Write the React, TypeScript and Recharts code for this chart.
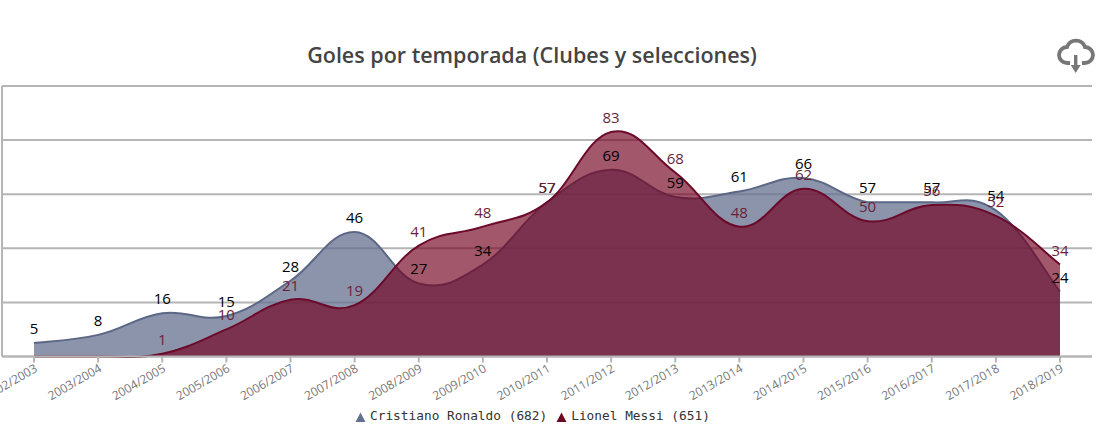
import React from 'react';
import { AreaChart, Area, XAxis, YAxis, CartesianGrid, Legend, LabelList } from 'recharts';

const seasons = ['2002/2003','2003/2004','2004/2005','2005/2006','2006/2007','2007/2008','2008/2009','2009/2010','2010/2011','2011/2012','2012/2013','2013/2014','2014/2015','2015/2016','2016/2017','2017/2018','2018/2019'];
const ronaldo = [5,8,16,15,28,46,27,34,57,69,59,61,66,57,57,54,24];
const messi = [0,0,1,10,21,19,41,48,57,83,68,48,62,50,56,52,34];
const yTicks = [0,20,40,60,80,100];
const legendItems = [
  { label: 'Cristiano Ronaldo (682)', color: '#64708f' },
  { label: 'Lionel Messi (651)', color: '#6b0a24' },
];

const data = seasons.map((season, i) => ({ season, ronaldo: ronaldo[i], messi: messi[i] }));

// Cardinal spline following the d3 curve-factory protocol; flat runs stay flat.
const smooth = (context: any) => {
  const f = 0.2;
  let line = NaN;
  let pts: [number, number][] = [];
  const flush = () => {
    const n = pts.length;
    if (n === 0) return;
    if (line) context.lineTo(pts[0][0], pts[0][1]);
    else context.moveTo(pts[0][0], pts[0][1]);
    for (let i = 0; i < n - 1; i++) {
      const p0 = pts[Math.max(i - 1, 0)];
      const p1 = pts[i];
      const p2 = pts[i + 1];
      const p3 = pts[Math.min(i + 2, n - 1)];
      const flat = p1[1] === p2[1];
      context.bezierCurveTo(
        p1[0] + f * (p2[0] - p0[0]),
        flat ? p1[1] : p1[1] + f * (p2[1] - p0[1]),
        p2[0] - f * (p3[0] - p1[0]),
        flat ? p2[1] : p2[1] - f * (p3[1] - p1[1]),
        p2[0],
        p2[1],
      );
    }
  };
  return {
    areaStart() { line = 0; },
    areaEnd() { line = NaN; },
    lineStart() { pts = []; },
    lineEnd() {
      flush();
      if (line || (line !== 0 && pts.length === 1)) context.closePath();
      line = 1 - line;
    },
    point(x: number, y: number) { pts.push([+x, +y]); },
  };
};

const labelFormat = (v: any) => (v === 0 ? '' : v);
const NoTick = () => <g />;

const LegendContent = () => (
  <div style={{ display: 'flex', paddingLeft: 354, position: 'relative', top: -3, fontFamily: '"DejaVu Sans Mono"', fontSize: 12.8, color: '#333', height: 20, alignItems: 'center' }}>
    {legendItems.map((it) => (
      <span key={it.label} style={{ display: 'inline-flex', alignItems: 'center', marginRight: 9 }}>
        <svg width={11} height={10} style={{ marginRight: 4, marginTop: 4 }}><path d="M0.5 10 L5.5 0.5 L10.5 10 Z" fill={it.color} /></svg>
        {it.label}
      </span>
    ))}
  </div>
);

export default function App() {
  return (
    <div style={{ position: 'absolute', left: 0, top: 0, width: 1102, height: 428, background: '#fff', overflow: 'hidden' }}>
      <div style={{ position: 'absolute', left: 0, width: 1064, top: 40, textAlign: 'center', fontFamily: '"Open Sans"', fontWeight: 600, fontSize: 21.5, color: '#444' }}>
        Goles por temporada (Clubes y selecciones)
      </div>
      <svg style={{ position: 'absolute', left: 1056, top: 38 }} width={40} height={38} viewBox="0 0 40 38">
        <path d="M14 25 H11 A8 8 0 0 1 11 9 A9.5 9.5 0 0 1 29 9 A8 8 0 0 1 29 25 H26" fill="none" stroke="#777" strokeWidth={3.8} />
        <path d="M19.7 17 V29" stroke="#777" strokeWidth={3.4} fill="none" />
        <path d="M14.7 27 H24.7 L19.7 35 Z" fill="#777" />
      </svg>
      <AreaChart width={1102} height={428} data={data} margin={{ top: 86, right: 10, bottom: 0, left: 1 }}>
        <CartesianGrid vertical={false} stroke="#b5b5b5" strokeWidth={2} />
        <XAxis dataKey="season" interval={0} padding={{ left: 32, right: 32 }} height={51.5} angle={-30} textAnchor="end"
          tick={{ fontSize: 12, fill: '#777', fontFamily: '"Open Sans"' }} tickSize={6} tickMargin={1}
          stroke="#b5b5b5" axisLine={{ stroke: '#b5b5b5', strokeWidth: 2 }} tickLine={{ stroke: '#b5b5b5', strokeWidth: 2 }} />
        <YAxis width={1} domain={[0, 100]} ticks={yTicks} tick={<NoTick />} tickLine={false} axisLine={{ stroke: '#b5b5b5', strokeWidth: 2 }} />
        <Legend height={20} content={<LegendContent />} />
        <Area dataKey="ronaldo" type={smooth as any} stroke="#5b6785" strokeWidth={2} fill="#64708f" fillOpacity={0.75} isAnimationActive={false} dot={false}>
          <LabelList dataKey="ronaldo" position="top" offset={9} fill="#000" fontSize={15} fontFamily='"Open Sans"' />
        </Area>
        <Area dataKey="messi" type={smooth as any} stroke="#6b0a2a" strokeWidth={2} fill="#73001e" fillOpacity={0.66} isAnimationActive={false} dot={false}>
          <LabelList dataKey="messi" position="top" offset={9} fill="#6b1f3a" fontSize={15} fontFamily='"Open Sans"' formatter={labelFormat} />
        </Area>
      </AreaChart>
    </div>
  );
}
